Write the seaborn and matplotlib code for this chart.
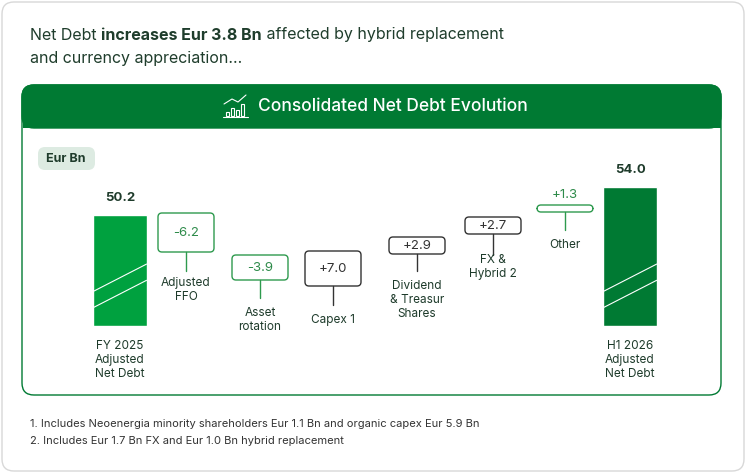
import matplotlib
matplotlib.use("Agg")
import matplotlib.pyplot as plt
from matplotlib.patches import FancyBboxPatch
import seaborn as sns
import pandas as pd
import numpy as np

sns.set_theme(style="white")
plt.rcParams['font.family'] = ['Inter', 'DejaVu Sans']

# data
categories = ["FY 2025\nAdjusted\nNet Debt", "Adjusted\nFFO", "Asset\nrotation", "Capex 1",
              "Dividend\n& Treasur\nShares", "FX &\nHybrid 2", "Other", "H1 2026\nAdjusted\nNet Debt"]
start_value = 50.2
end_value = 54.0
deltas = [-6.2, -3.9, 7.0, 2.9, 2.7, 1.3]
delta_labels = ["-6.2", "-3.9", "+7.0", "+2.9", "+2.7", "+1.3"]
footnotes = ["1. Includes Neoenergia minority shareholders Eur 1.1 Bn and organic capex Eur 5.9 Bn",
             "2. Includes Eur 1.7 Bn FX and Eur 1.0 Bn hybrid replacement"]

GREEN = "#007A33"
LIGHT = "#00A13F"
DARK_TXT = "#1E3B2B"

W, H = 746, 473
fig = plt.figure(figsize=(W / 100, H / 100), dpi=100)

# overlay axes in pixel coords
ov = fig.add_axes([0, 0, 1, 1])
ov.set_xlim(0, W)
ov.set_ylim(H, 0)
ov.axis("off")

def rbox(x0, y0, x1, y1, fc, ec, lw=1.0, r=6, z=1):
    p = FancyBboxPatch((x0, y0), x1 - x0, y1 - y0, boxstyle=f"round,pad=0,rounding_size={r}",
                       fc=fc, ec=ec, lw=lw, zorder=z)
    ov.add_patch(p)

rbox(2, 2, 744, 471, "white", "#D8D8D8", 1.0, 12, 0)
rbox(22, 85, 721, 395, "white", GREEN, 1.0, 12, 1)
rbox(22, 85, 721, 128, GREEN, GREEN, 1.0, 12, 2)
ov.add_patch(plt.Rectangle((22.5, 110), 698, 18, fc=GREEN, ec="none", zorder=2))
rbox(38, 147, 95, 170, "#DDEBE2", "none", 0, 7, 2)
ov.text(66, 159, "Eur Bn", ha="center", va="center", fontsize=9, fontweight="bold", color=DARK_TXT, zorder=3)

# header icon + title
ov.text(258, 106, "Consolidated Net Debt Evolution", ha="left", va="center",
        fontsize=12.5, color="white", fontweight="medium", zorder=3)
for i, hgt in enumerate([4, 8, 6, 12]):
    ov.add_patch(plt.Rectangle((226 + i * 5, 116 - hgt), 3, hgt, fc="none", ec="white", lw=0.8, zorder=3))
ov.plot([223, 248], [117, 117], color="white", lw=0.8, zorder=3)
ov.plot([224, 232, 238, 246], [104, 99, 102, 95], color="white", lw=0.8, zorder=3)

# title with bold part
fig.canvas.draw()
rend = fig.canvas.get_renderer()
x = 30
for txt, wt in [("Net Debt ", "normal"), ("increases Eur 3.8 Bn", "bold"),
                (" affected by hybrid replacement", "normal")]:
    t = ov.text(x, 35, txt, fontsize=11.5, fontweight=wt, color="#1F3D2C", va="center")
    bb = t.get_window_extent(rend)
    x += bb.width
ov.text(30, 58, "and currency appreciation…", fontsize=11.5, color="#1F3D2C", va="center")

for i, f in enumerate(footnotes):
    ov.text(30, 424 + i * 17, f, fontsize=8, color="#333333", va="center")

# bar axes
px_per_unit = 7.37
base = start_value - 111 / px_per_unit
left_px, right_px, bot_px, top_px = 83.5, 666.5, 326, 140
ax = fig.add_axes([left_px / W, (H - bot_px) / H, (right_px - left_px) / W, (bot_px - top_px) / H])
ax.set_ylim(base, base + (bot_px - top_px) / px_per_unit)
vals = [start_value] + [np.nan] * len(deltas) + [end_value]
df = pd.DataFrame({"cat": categories, "val": vals})
sns.barplot(data=df, x="cat", y="val", hue="cat", palette=[LIGHT] + ["w"] * 6 + [GREEN],
            legend=False, width=0.73, saturation=1, ax=ax)
# start bars at the visible baseline
for p in ax.patches:
    h = p.get_height()
    if h and not np.isnan(h):
        p.set_y(base)
        p.set_height(h - base)
ax.set_xlim(-0.5, 7.5)
ax.axis("off")
ax.patch.set_alpha(0)

# bar value labels and hatch lines
for xi, v in [(0, start_value), (7, end_value)]:
    ax.text(xi, v + 1.5, f"{v:.1f}", ha="center", va="bottom", fontsize=9.5, fontweight="bold", color=DARK_TXT)
    for off in (0, 2.2):
        ax.plot([xi - 0.365, xi + 0.365], [base + 2.5 + off, base + 6.2 + off], color="white", lw=0.8)

ov.text(120, 360, categories[0], ha="center", va="center", fontsize=8.5, color=DARK_TXT, linespacing=1.25)
ov.text(630, 360, categories[7], ha="center", va="center", fontsize=8.5, color=DARK_TXT, linespacing=1.25)

# delta boxes layout (pixel): centre x, top, bottom, stem end, label centre
layout = [(186, 213, 252, 271, 290), (260, 255, 280, 298, 320), (333, 251, 286, 305, 320),
          (417, 237, 254, 271, 300), (493, 217, 234, 255, 267), (565, 205, 212, 230, 245)]
for i, (d, lab) in enumerate(zip(deltas, delta_labels)):
    cx, top, bot, stem, lc = layout[i]
    col = "#2E9A4E" if d < 0 or i == 5 else "#333333"
    txtcol = "#2E8B4A" if d < 0 or i == 5 else "#333333"
    rbox(cx - 28, top, cx + 28, bot, "white", col, 1.0, 4, 3)
    ty = 195 if i == 5 else (top + bot) / 2
    ov.text(cx, ty, lab, ha="center", va="center", fontsize=9.5, color=txtcol, zorder=4)
    ov.plot([cx, cx], [bot, stem], color=col, lw=1.0, zorder=3)
    ov.text(cx, lc, categories[i + 1], ha="center", va="center", fontsize=8.5,
            color=DARK_TXT, linespacing=1.25, zorder=4)

fig.savefig("out.png", dpi=100)
